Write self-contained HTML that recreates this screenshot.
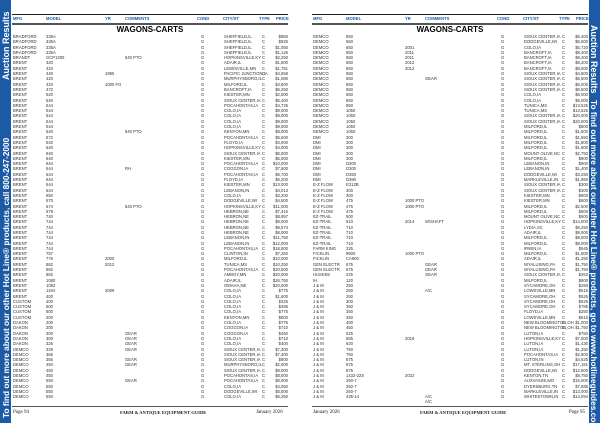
<!DOCTYPE html>
<html><head><meta charset="utf-8"><style>
body{margin:0;width:600px;height:423px;background:#fff;position:relative;overflow:hidden;font-family:"Liberation Sans",sans-serif;}
.sb{position:absolute;top:0;height:423px;width:11px;background:#1d5aa6;}
.vt{position:absolute;color:#fff;font-weight:bold;font-size:9px;white-space:nowrap;transform-origin:0 0;}
.c{position:absolute;font-size:4.2px;line-height:5.3px;color:#333;white-space:nowrap;top:34px;}
.r{text-align:right;}
.h{position:absolute;font-size:4.2px;color:#1d5aa6;font-weight:bold;top:16px;}
.ln{position:absolute;background:#222;}
.t{position:absolute;top:25px;font-weight:bold;font-size:8px;width:276px;text-align:center;}
.f{position:absolute;top:410px;font-family:"Liberation Serif",serif;font-size:5px;color:#222;}
</style></head><body>
<div class="sb" style="left:0"></div>
<div class="vt" style="left:1px;top:80px;transform:rotate(-90deg)">Auction Results</div>
<div class="vt" style="left:1px;top:418px;transform:rotate(-90deg);font-size:8.3px">To find out more about our other Hot Line® products, call 800-247-2000</div>
<div class="sb" style="left:589px"></div>
<div class="vt" style="left:599px;top:25px;transform:rotate(90deg)">Auction Results</div>
<div class="vt" style="left:599px;top:100px;transform:rotate(90deg);font-size:8.3px">To find out more about our other Hot Line® products, go to www.hotlineguides.com</div>

<!-- LEFT PAGE -->
<div class="ln" style="left:12px;top:14px;width:276px;height:1px"></div>
<div class="ln" style="left:12px;top:23px;width:276px;height:2px;background:#555"></div>
<div class="h" style="left:13px">MFG</div><div class="h" style="left:46px">MODEL</div><div class="h" style="left:105px">YR</div><div class="h" style="left:125px">COMMENTS</div><div class="h" style="left:197px">COND</div><div class="h" style="left:223px">CITY/ST</div><div class="h" style="left:259px">TYPE</div><div class="h" style="left:276px">PRICE</div>
<div class="t" style="left:12px">WAGONS-CARTS</div>
<div class="c" style="left:13px">BRADFORD<br>BRADFORD<br>BRADFORD<br>BRADFORD<br>BRANDT<br>BRENT<br>BRENT<br>BRENT<br>BRENT<br>BRENT<br>BRENT<br>BRENT<br>BRENT<br>BRENT<br>BRENT<br>BRENT<br>BRENT<br>BRENT<br>BRENT<br>BRENT<br>BRENT<br>BRENT<br>BRENT<br>BRENT<br>BRENT<br>BRENT<br>BRENT<br>BRENT<br>BRENT<br>BRENT<br>BRENT<br>BRENT<br>BRENT<br>BRENT<br>BRENT<br>BRENT<br>BRENT<br>BRENT<br>BRENT<br>BRENT<br>BRENT<br>BRENT<br>BRENT<br>BRENT<br>BRENT<br>BRENT<br>BRENT<br>BRENT<br>BRENT<br>BRENT<br>CUSTOM<br>CUSTOM<br>CUSTOM<br>CUSTOM<br>DAKON<br>DAKON<br>DAKON<br>DAKON<br>DAKON<br>DEMCO<br>DEMCO<br>DEMCO<br>DEMCO<br>DEMCO<br>DEMCO<br>DEMCO<br>DEMCO<br>DEMCO<br>DEMCO</div>
<div class="c" style="left:46px">335A<br>335A<br>335A<br>335A<br>GCP1300<br>320<br>420<br>440<br>420<br>420<br>472<br>520<br>540<br>544<br>544<br>544<br>544<br>544<br>540<br>572<br>640<br>640<br>640<br>640<br>644<br>644<br>644<br>644<br>644<br>644<br>650<br>670<br>674<br>678<br>740<br>744<br>744<br>744<br>744<br>744<br>744<br>757<br>776<br>882<br>882<br>882<br>1080<br>1082<br>1194<br>400<br>400<br>600<br>600<br>200<br>200<br>200<br>300<br>300<br>325<br>325<br>365<br>365<br>450<br>450<br>450<br>550<br>550<br>550<br>550</div>
<div class="c" style="left:105px"><br><br><br><br><br><br><br>1995<br><br>1000 FO<br><br><br><br><br><br><br><br><br><br><br><br><br><br><br><br><br><br><br><br><br><br><br><br><br><br><br><br><br><br><br><br><br>2000<br>2012<br><br><br><br><br>2009</div>
<div class="c" style="left:125px"><br><br><br><br>540 PTO<br><br><br><br><br><br><br><br><br><br><br><br><br><br>540 PTO<br><br><br><br><br><br><br>RH<br><br><br><br><br><br><br>540 PTO<br><br><br><br><br><br><br><br><br><br><br><br><br><br><br><br><br><br><br><br><br><br><br><br>GEAR<br>GEAR<br>GEAR<br>GEAR<br><br>GEAR<br>GEAR<br><br><br>GEAR</div>
<div class="c" style="left:201px">G<br>G<br>G<br>G<br>G<br>G<br>G<br>G<br>G<br>G<br>G<br>G<br>G<br>G<br>G<br>G<br>G<br>G<br>G<br>G<br>G<br>G<br>G<br>G<br>G<br>G<br>G<br>G<br>G<br>G<br>G<br>G<br>G<br>G<br>G<br>G<br>G<br>G<br>G<br>G<br>G<br>G<br>G<br>G<br>G<br>G<br>G<br>G<br>G<br>G<br>G<br>G<br>G<br>G<br>G<br>G<br>G<br>G<br>G<br>G<br>G<br>G<br>G<br>G<br>G<br>G<br>G<br>G<br>G</div>
<div class="c" style="left:224px">SHEFFIELD,IL<br>SHEFFIELD,IL<br>SHEFFIELD,IL<br>SHEFFIELD,IL<br>HOPKINSVILLE,KY<br>ADAIR,IL<br>LEWISVILLE,MN<br>PACIFIC JUNCTION,IA<br>MURPHYSBORO,IL<br>MILFORD,IL<br>BANCROFT,IA<br>KIESTER,MN<br>SIOUX CENTER,IA<br>POCAHONTAS,IA<br>COLO,IA<br>COLO,IA<br>COLO,IA<br>COLO,IA<br>KENYON,MN<br>POCAHONTAS,IA<br>FLOYD,IA<br>HOPKINSVILLE,KY<br>SIOUX CENTER,IA<br>KIESTER,MN<br>POCAHONTAS,IA<br>COGGON,IA<br>POCAHONTAS,IA<br>FLOYD,IA<br>KIESTER,MN<br>LEBANON,IN<br>COLO,IA<br>DODGEVILLE,WI<br>HOPKINSVILLE,KY<br>HEBRON,NE<br>HEBRON,NE<br>HEBRON,NE<br>HEBRON,NE<br>HEBRON,NE<br>LEBANON,IN<br>LEBANON,IN<br>POCAHONTAS,IA<br>CLINTON,IN<br>MILFORD,IL<br>TUNICA,MS<br>POCAHONTAS,IA<br>AMBOY,MN<br>ADAIR,IL<br>OMAHA,NE<br>COLO,IA<br>COLO,IA<br>COLO,IA<br>COLO,IA<br>COLO,IA<br>KENYON,MN<br>COLO,IA<br>COGGON,IA<br>COGGON,IA<br>COLO,IA<br>COLO,IA<br>SIOUX CENTER,IA<br>SIOUX CENTER,IA<br>SIOUX CENTER,IA<br>MURPHYSBORO,IL<br>SIOUX CENTER,IA<br>POCAHONTAS,IA<br>POCAHONTAS,IA<br>COLO,IA<br>DODGEVILLE,WI<br>COLO,IA</div>
<div class="c" style="left:262px">C<br>C<br>C<br>C<br>C<br>C<br>C<br>C<br>C<br>C<br>C<br>C<br>C<br>C<br>C<br>C<br>C<br>C<br>C<br>C<br>C<br>C<br>C<br>C<br>C<br>C<br>C<br>C<br>C<br>C<br>C<br>C<br>C<br>C<br>C<br>C<br>C<br>C<br>C<br>C<br>C<br>C<br>C<br>C<br>C<br>C<br>C<br>C<br>C<br>C<br>C<br>C<br>C<br>C<br>C<br>C<br>C<br>C<br>C<br>C<br>C<br>C<br>C<br>C<br>C<br>C<br>C<br>C<br>C</div>
<div class="c r" style="left:266px;width:22px">$850<br>$925<br>$1,050<br>$1,126<br>$2,250<br>$1,800<br>$1,751<br>$4,658<br>$1,080<br>$4,800<br>$6,250<br>$2,000<br>$5,400<br>$4,725<br>$9,000<br>$9,000<br>$9,000<br>$9,000<br>$8,000<br>$5,600<br>$4,000<br>$4,000<br>$6,000<br>$5,000<br>$10,000<br>$7,500<br>$6,700<br>$5,200<br>$13,000<br>$4,013<br>$3,200<br>$4,500<br>$11,000<br>$7,416<br>$8,857<br>$8,000<br>$9,573<br>$8,000<br>$11,750<br>$12,000<br>$18,500<br>$7,250<br>$10,000<br>$10,250<br>$20,500<br>$20,000<br>$26,750<br>$20,000<br>$775<br>$1,600<br>$325<br>$485<br>$775<br>$800<br>$775<br>$710<br>$450<br>$710<br>$400<br>$7,300<br>$7,300<br>$800<br>$2,500<br>$8,000<br>$8,000<br>$8,000<br>$4,050<br>$5,000<br>$6,250</div>
<div class="ln" style="left:12px;top:406px;width:276px;height:1px;background:#555"></div>
<div class="f" style="left:13px">Page 94</div>
<div class="f" style="left:120px;font-weight:bold;font-size:4.6px">FARM &amp; ANTIQUE EQUIPMENT GUIDE</div>
<div class="f" style="left:256px">January 2026</div>

<!-- RIGHT PAGE -->
<div class="ln" style="left:312px;top:14px;width:276px;height:1px"></div>
<div class="ln" style="left:312px;top:23px;width:276px;height:2px;background:#555"></div>
<div class="h" style="left:313px">MFG</div><div class="h" style="left:346px">MODEL</div><div class="h" style="left:405px">YR</div><div class="h" style="left:425px">COMMENTS</div><div class="h" style="left:497px">COND</div><div class="h" style="left:523px">CITY/ST</div><div class="h" style="left:559px">TYPE</div><div class="h" style="left:576px">PRICE</div>
<div class="t" style="left:312px">WAGONS-CARTS</div>
<div class="c" style="left:313px">DEMCO<br>DEMCO<br>DEMCO<br>DEMCO<br>DEMCO<br>DEMCO<br>DEMCO<br>DEMCO<br>DEMCO<br>DEMCO<br>DEMCO<br>DEMCO<br>DEMCO<br>DEMCO<br>DEMCO<br>DEMCO<br>DEMCO<br>DEMCO<br>DEMCO<br>DMI<br>DMI<br>DMI<br>DMI<br>DMI<br>DMI<br>DMI<br>DMI<br>DMI<br>E-Z FLOW<br>E-Z FLOW<br>E-Z FLOW<br>E-Z FLOW<br>E-Z FLOW<br>E-Z FLOW<br>EZ-TRAIL<br>EZ-TRAIL<br>EZ-TRAIL<br>EZ-TRAIL<br>EZ-TRAIL<br>EZ-TRAIL<br>FARM KING<br>FICKLIN<br>FICKLIN<br>GEN ELECTR<br>GEN ELECTR<br>HUSKEE<br>IH<br>J &amp; M<br>J &amp; M<br>J &amp; M<br>J &amp; M<br>J &amp; M<br>J &amp; M<br>J &amp; M<br>J &amp; M<br>J &amp; M<br>J &amp; M<br>J &amp; M<br>J &amp; M<br>J &amp; M<br>J &amp; M<br>J &amp; M<br>J &amp; M<br>J &amp; M<br>J &amp; M<br>J &amp; M<br>J &amp; M<br>J &amp; M<br>J &amp; M</div>
<div class="c" style="left:346px">550<br>550<br>650<br>650<br>650<br>650<br>650<br>650<br>650<br>650<br>650<br>650<br>650<br>850<br>1050<br>1050<br>1050<br>1050<br>1050<br>300<br>300<br>300<br>300<br>300<br>D300<br>D300<br>D350<br>D390<br>E312B<br>300<br>300<br>475<br>475<br>475<br>500<br>510<br>710<br>710<br>710<br>710<br>225<br>9500<br>CA900<br>675<br>675<br>225<br>120<br>250<br>250<br>250<br>300<br>350<br>350<br>350<br>400<br>450<br>525<br>555<br>620<br>750<br>750<br>875<br>875<br>875<br>1432-22S<br>250-7<br>250-7<br>250-7<br>435-14</div>
<div class="c" style="left:405px"><br><br>2001<br>2011<br>2011<br>2012<br>2012<br><br><br><br><br><br><br><br><br><br><br><br><br><br><br><br><br><br><br><br><br><br><br><br><br>1000 PTO<br>1000 PTO<br><br><br>2014<br><br><br><br><br><br>1000 PTO<br><br><br><br><br><br><br><br><br><br><br><br><br><br><br><br>2016<br><br><br><br><br><br><br>2022</div>
<div class="c" style="left:425px"><br><br><br><br><br><br><br><br>GEAR<br><br><br><br><br><br><br><br><br><br><br><br><br><br><br><br><br><br><br><br><br><br><br><br><br><br><br>W/SHAFT<br><br><br><br><br><br><br><br>GEAR<br>GEAR<br>GEAR<br><br><br>A/C<br><br><br><br><br><br><br><br><br><br><br><br><br><br><br><br><br><br><br><br>A/C<br>A/C</div>
<div class="c" style="left:501px">G<br>G<br>G<br>G<br>G<br>G<br>G<br>G<br>G<br>G<br>G<br>G<br>G<br>G<br>G<br>G<br>G<br>G<br>G<br>G<br>G<br>G<br>G<br>G<br>G<br>G<br>G<br>G<br>G<br>G<br>G<br>G<br>G<br>G<br>G<br>G<br>G<br>G<br>G<br>G<br>G<br>G<br>G<br>G<br>G<br>G<br>G<br>G<br>G<br>G<br>G<br>G<br>G<br>G<br>G<br>G<br>G<br>G<br>G<br>G<br>G<br>G<br>G<br>G<br>G<br>G<br>G<br>G<br>G</div>
<div class="c" style="left:524px">SIOUX CENTER,IA<br>DODGEVILLE,WI<br>COLO,IA<br>BANCROFT,IA<br>BANCROFT,IA<br>BANCROFT,IA<br>BANCROFT,IA<br>SIOUX CENTER,IA<br>SIOUX CENTER,IA<br>SIOUX CENTER,IA<br>SIOUX CENTER,IA<br>COLO,IA<br>COLO,IA<br>TUNICA,MS<br>TUNICA,MS<br>SIOUX CENTER,IA<br>SIOUX CENTER,IA<br>MILFORD,IL<br>MILFORD,IL<br>MILFORD,IL<br>MILFORD,IL<br>MILFORD,IL<br>MOUNT OLIVE,NC<br>MILFORD,IL<br>LEBANON,IN<br>LEBANON,IN<br>DODGEVILLE,WI<br>MARKLEVILLE,IN<br>SIOUX CENTER,IA<br>SIOUX CENTER,IA<br>KIESTER,MN<br>KIESTER,MN<br>MILFORD,IL<br>MILFORD,IL<br>MOUNT OLIVE,NC<br>HOPKINSVILLE,KY<br>LYDIA,SC<br>ADAIR,IL<br>MILFORD,IL<br>MILFORD,IL<br>IRWIN,IA<br>MILFORD,IL<br>ADAIR,IL<br>WYALUSING,PA<br>WYALUSING,PA<br>SIOUX CENTER,IA<br>MILFORD,IL<br>SYCAMORE,OH<br>LOWSVILLE,MN<br>SYCAMORE,OH<br>SYCAMORE,OH<br>SYCAMORE,OH<br>FLOYD,IA<br>LOWSVILLE,MN<br>NEW BLOOMINGTON,OH<br>NEW BLOOMINGTON,OH<br>LUTON,IA<br>HOPKINSVILLE,KY<br>LUTON,IA<br>LUTON,IA<br>POCAHONTAS,IA<br>LUTON,IN<br>MT. STERLING,OH<br>DODGEVILLE,WI<br>KENTON,TN<br>AUXVASSE,MO<br>DYERSBURG,TN<br>MARKLEVILLE,IN<br>WHITESTOWN,IN</div>
<div class="c" style="left:562px">C<br>C<br>C<br>C<br>C<br>C<br>C<br>C<br>C<br>C<br>C<br>C<br>C<br>C<br>C<br>C<br>C<br>C<br>C<br>C<br>C<br>C<br>C<br>C<br>C<br>C<br>C<br>C<br>C<br>C<br>C<br>C<br>C<br>C<br>C<br>C<br>C<br>C<br>C<br>C<br>C<br>C<br>C<br>C<br>C<br>C<br>C<br>C<br>C<br>C<br>C<br>C<br>C<br>C<br>C<br>C<br>C<br>C<br>C<br>C<br>C<br>C<br>C<br>C<br>C<br>C<br>C<br>C<br>C</div>
<div class="c r" style="left:566px;width:22px">$5,400<br>$5,500<br>$5,720<br>$8,400<br>$8,400<br>$8,200<br>$8,500<br>$4,800<br>$5,500<br>$6,000<br>$6,500<br>$6,000<br>$6,000<br>$13,525<br>$13,525<br>$20,000<br>$20,000<br>$800<br>$1,500<br>$1,550<br>$1,800<br>$1,800<br>$2,750<br>$900<br>$900<br>$1,400<br>$3,250<br>$1,950<br>$300<br>$300<br>$600<br>$600<br>$2,500<br>$600<br>$600<br>$14,000<br>$8,250<br>$8,000<br>$8,000<br>$8,000<br>$945<br>$1,600<br>$1,250<br>$1,750<br>$1,750<br>$263<br>$800<br>$250<br>$515<br>$525<br>$525<br>$785<br>$250<br>$515<br>$1,000<br>$1,750<br>$750<br>$7,500<br>$1,430<br>$1,250<br>$2,600<br>$4,625<br>$17,181<br>$12,600<br>$8,750<br>$15,000<br>$7,688<br>$13,000<br>$14,094</div>
<div class="ln" style="left:312px;top:406px;width:276px;height:1px;background:#555"></div>
<div class="f" style="left:313px">January 2026</div>
<div class="f" style="left:420px;font-weight:bold;font-size:4.6px">FARM &amp; ANTIQUE EQUIPMENT GUIDE</div>
<div class="f" style="left:569px">Page 95</div>
</body></html>
